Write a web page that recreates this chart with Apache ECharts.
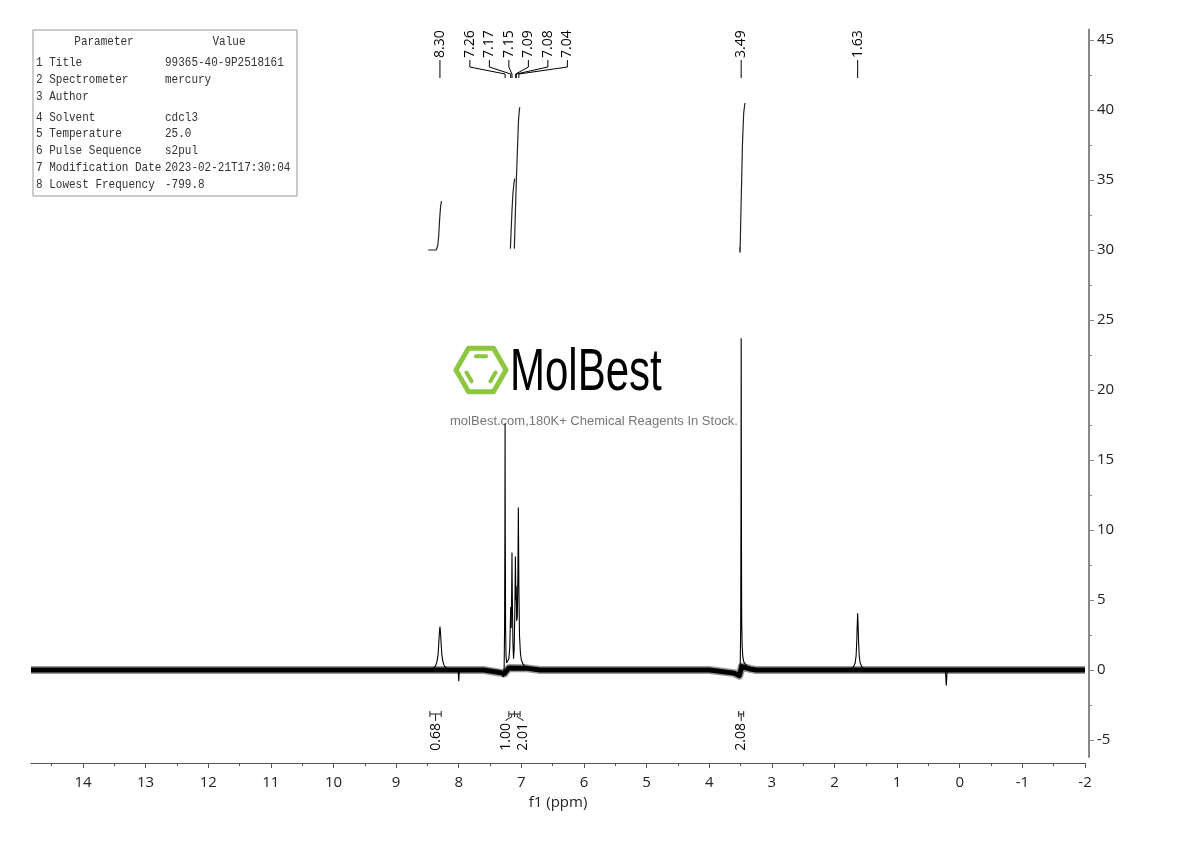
<!DOCTYPE html>
<html><head><meta charset="utf-8">
<script src="https://cdn.jsdelivr.net/npm/echarts@6/dist/echarts.min.js"></script>
<style>html,body{margin:0;padding:0;background:#fff}#c{width:1190px;height:841px}</style>
</head><body><div id="c"></div>
<script>
// ---------------- data ----------------
const xTicks = [-2,-1,0,1,2,3,4,5,6,7,8,9,10,11,12,13,14];
const xMinorTicks = [-1.5,-0.5,0.5,1.5,2.5,3.5,4.5,5.5,6.5,7.5,8.5,9.5,10.5,11.5,12.5,13.5,14.5];
const yTicks = [-5,0,5,10,15,20,25,30,35,40,45];
const yMinorTicks = [-2.5,2.5,7.5,12.5,17.5,22.5,27.5,32.5,37.5,42.5];

const spectrum = [
 [14.83,0],[8.50,0],
 [8.45,0.05],[8.40,0.15],[8.37,0.3],[8.35,0.55],[8.33,1.1],[8.32,1.8],[8.31,2.6],[8.30,3.1],[8.29,2.6],[8.28,1.8],[8.27,1.1],[8.25,0.55],[8.23,0.3],[8.20,0.15],[8.15,0.05],[8.10,0],
 [8.01,0],[8.00,-0.8],[7.99,0],
 [7.60,0],[7.40,-0.1],[7.32,-0.3],[7.285,-0.5],[7.275,0.2],[7.268,3.0],[7.263,10],[7.26,17.6],[7.257,10],[7.252,3.0],[7.245,1.0],[7.235,0.5],[7.22,0.5],[7.20,0.8],[7.185,1.6],[7.175,3.5],[7.17,4.5],[7.162,3.0],[7.155,5.5],[7.15,8.4],[7.145,5.5],[7.135,2.0],[7.125,0.8],[7.115,1.5],[7.103,4.5],[7.095,8.1],[7.088,5.0],[7.082,6.0],[7.075,3.5],[7.065,3.8],[7.055,7.0],[7.048,11.6],[7.04,6.0],[7.03,2.5],[7.015,1.2],[7.00,0.7],[6.97,0.4],[6.93,0.2],[6.85,0.05],[6.75,0],
 [4.00,0],[3.80,-0.2],[3.60,-0.35],[3.53,-0.5],[3.51,-0.6],[3.505,0.5],[3.498,3.0],[3.494,10],[3.49,23.7],[3.486,10],[3.482,3.5],[3.475,1.8],[3.465,1.0],[3.45,0.6],[3.42,0.4],[3.38,0.2],[3.30,0.05],[3.20,0],
 [1.80,0],[1.75,0.05],[1.70,0.2],[1.67,0.5],[1.655,1.0],[1.645,2.0],[1.637,3.2],[1.63,4.05],[1.623,3.2],[1.615,2.0],[1.605,1.0],[1.59,0.5],[1.56,0.2],[1.51,0.05],[1.45,0],
 [0.23,0],[0.215,-1.1],[0.20,0],
 [-2,0]
];
const baseline = [[14.83,0],[7.60,0],[7.32,-0.2],[7.27,-0.25],[7.20,0.15],[6.90,0.12],[6.70,0],[4.00,0],[3.60,-0.22],[3.52,-0.4],[3.48,0.25],[3.35,0.08],[3.25,0],[-2,0]];

const integral1 = [[8.488,30.0],[8.36,30.0],[8.335,30.3],[8.32,31.0],[8.305,32.2],[8.29,33.1],[8.276,33.5]];
const integral2 = [[7.175,30.1],[7.165,31.2],[7.15,32.8],[7.135,34.0],[7.12,34.7],[7.107,35.1]];
const integral3 = [[7.112,30.1],[7.10,32.0],[7.08,35.0],[7.06,37.5],[7.045,39.3],[7.027,40.2]];
const integral4 = [[3.515,30.2],[3.508,29.8],[3.50,31.5],[3.485,34.5],[3.47,37.5],[3.45,39.8],[3.43,40.5]];

const peakPositions = [8.30,7.26,7.17,7.15,7.09,7.08,7.04,3.49,1.63];
const integralFrom = [8.46,7.20,7.11,3.53];
const integralTo   = [8.28,7.11,7.02,3.45];
const integralValues = [0.68,1.00,2.01,2.08];

const paramNames = ['1 Title','2 Spectrometer','3 Author','4 Solvent','5 Temperature','6 Pulse Sequence','7 Modification Date','8 Lowest Frequency'];
const paramValues = ['99365-40-9P2518161','mercury','','cdcl3','25.0','s2pul','2023-02-21T17:30:04','-799.8'];

// ---------------- chart ----------------
const chart = echarts.init(document.getElementById('c'), null, {renderer:'canvas'});
const FONT = '"Open Sans", "Noto Sans", sans-serif';

function peakLayout(api){
  const pxs = peakPositions.map(p => api.coord([p,0])[0]);
  const groups = []; let cur = [0];
  for (let i=1;i<pxs.length;i++){ if (Math.abs(pxs[i]-pxs[i-1]) < 18) cur.push(i); else { groups.push(cur); cur=[i]; } }
  groups.push(cur);
  const lx = new Array(pxs.length);
  groups.forEach(g => {
    const n = g.length; const mean = g.reduce((s,i)=>s+pxs[i],0)/n;
    const c = n>1 ? mean+5.5 : mean;
    g.forEach((i,k) => { lx[i] = c + (k-(n-1)/2)*19.5; });
  });
  return {pxs, lx};
}
function integralLayout(api){
  const a = integralFrom.map(v => api.coord([v,0])[0]);
  const b = integralTo.map(v => api.coord([v,0])[0]);
  const cx = a.map((v,i) => (v+b[i])/2);
  const groups = []; let cur=[0];
  for (let i=1;i<cx.length;i++){ if (Math.abs(cx[i]-cx[i-1]) < 15) cur.push(i); else { groups.push(cur); cur=[i]; } }
  groups.push(cur);
  const lx = new Array(cx.length);
  groups.forEach(g => {
    const n=g.length; const mean=g.reduce((s,i)=>s+cx[i],0)/n;
    g.forEach((i,k)=>{ lx[i] = mean + (k-(n-1)/2)*17; });
  });
  return {a,b,cx,lx};
}

const TFONT = '11px "Liberation Mono"';
const tableChildren = [
  {type:'rect', shape:{x:33,y:30,width:264,height:166}, style:{fill:'#fff', stroke:'#999', lineWidth:1}},
  {type:'text', x:104, y:42, scaleY:1.2, style:{text:'Parameter', font:TFONT, fill:'#333', align:'center', verticalAlign:'middle'}},
  {type:'text', x:229, y:42, scaleY:1.2, style:{text:'Value', font:TFONT, fill:'#333', align:'center', verticalAlign:'middle'}}
];
const rowY = [63,80,97,118,134,151,168,185];
paramNames.forEach((n,i)=>{
  tableChildren.push({type:'text', x:36, y:rowY[i], scaleY:1.2, style:{text:n, font:TFONT, fill:'#333', verticalAlign:'middle'}});
  tableChildren.push({type:'text', x:165, y:rowY[i], scaleY:1.2, style:{text:paramValues[i], font:TFONT, fill:'#333', verticalAlign:'middle'}});
});

// hexagon logo
const hcx = 481, hcy = 370, R = 25, r = 16;
const hexPts = []; for (let k=0;k<6;k++){ const ang = -k*Math.PI/3; hexPts.push([hcx+R*Math.cos(ang), hcy+R*Math.sin(ang)]); }
const innerPts = []; for (let k=0;k<6;k++){ const ang = -k*Math.PI/3; innerPts.push([hcx+r*Math.cos(ang), hcy+r*Math.sin(ang)]); }
function innerSeg(i,j){ const p=innerPts[i], q=innerPts[j]; const t=0.18;
  return {type:'line', shape:{x1:p[0]+(q[0]-p[0])*t, y1:p[1]+(q[1]-p[1])*t, x2:q[0]-(q[0]-p[0])*t, y2:q[1]-(q[1]-p[1])*t}, style:{stroke:'#8dc63f', lineWidth:4, lineCap:'round'}}; }

const option = {
  animation:false,
  backgroundColor:'#fff',
  grid:[
    {left:31, right:105, top:29.5, bottom:78, containLabel:false},
    {left:31, right:101, top:29.5, bottom:84, containLabel:false}
  ],
  xAxis:[
    {gridIndex:0, type:'value', inverse:true, min:-2, max:14.83, position:'bottom',
     axisLine:{show:true, onZero:false, lineStyle:{color:'#555', width:1.2}},
     axisTick:{show:true, customValues:xTicks, length:5, lineStyle:{color:'#555'}},
     axisLabel:{customValues:xTicks, fontSize:15, color:'#222', margin:12, fontFamily:FONT},
     splitLine:{show:false},
     name:'f1 (ppm)', nameLocation:'middle', nameGap:26, nameTextStyle:{fontSize:15, color:'#222', fontFamily:FONT}},
    {gridIndex:0, type:'value', inverse:true, min:-2, max:14.83, position:'bottom',
     axisLine:{show:false, onZero:false}, axisTick:{show:true, customValues:xMinorTicks, length:3, lineStyle:{color:'#555'}},
     axisLabel:{show:false}, splitLine:{show:false}},
    {gridIndex:1, type:'value', inverse:true, min:-2, max:14.83, show:false, axisLine:{onZero:false}}
  ],
  yAxis:[
    {gridIndex:0, type:'value', min:-6.64, max:45.75, show:false, axisLine:{onZero:false}},
    {gridIndex:1, type:'value', min:-6.21, max:45.75, position:'right',
     axisLine:{show:true, onZero:false, lineStyle:{color:'#888', width:2}},
     axisTick:{show:true, customValues:yTicks, length:5, lineStyle:{color:'#888'}},
     axisLabel:{customValues:yTicks, fontSize:15, color:'#222', margin:8, fontFamily:FONT},
     splitLine:{show:false}},
    {gridIndex:1, type:'value', min:-6.21, max:45.75, position:'right',
     axisLine:{show:false, onZero:false}, axisTick:{show:true, customValues:yMinorTicks, length:3, lineStyle:{color:'#888'}},
     axisLabel:{show:false}, splitLine:{show:false}}
  ],
  graphic:[
    {type:'group', z:0, children:[
      {type:'polygon', shape:{points:hexPts}, style:{fill:null, stroke:'#8dc63f', lineWidth:5, lineJoin:'round'}},
      innerSeg(1,2), innerSeg(3,4), innerSeg(5,0),
      {type:'text', x:510, y:373, scaleX:0.70, style:{text:'MolBest', font:'60px "Liberation Sans"', fill:'#000', verticalAlign:'middle'}},
      {type:'text', x:594, y:421, style:{text:'molBest.com,180K+ Chemical Reagents In Stock.', font:'13px "Liberation Sans"', fill:'#777', align:'center', verticalAlign:'middle'}}
    ]},
    {type:'group', z:10, children:tableChildren}
  ],
  series:[
    {type:'line', xAxisIndex:0, yAxisIndex:0, data:baseline, showSymbol:false, silent:true, lineStyle:{color:'rgba(0,0,0,0.4)', width:8, join:'round'}, z:1},
    {type:'line', xAxisIndex:0, yAxisIndex:0, data:baseline, showSymbol:false, silent:true, lineStyle:{color:'#000', width:5, join:'round'}, z:2},
    {type:'line', xAxisIndex:0, yAxisIndex:0, data:spectrum, showSymbol:false, sampling:null, lineStyle:{color:'#000', width:1.1}, z:3},
    {type:'line', xAxisIndex:0, yAxisIndex:0, data:integral1, showSymbol:false, lineStyle:{color:'#222', width:1.2}, z:3},
    {type:'line', xAxisIndex:0, yAxisIndex:0, data:integral2, showSymbol:false, lineStyle:{color:'#222', width:1.2}, z:3},
    {type:'line', xAxisIndex:0, yAxisIndex:0, data:integral3, showSymbol:false, lineStyle:{color:'#222', width:1.2}, z:3},
    {type:'line', xAxisIndex:0, yAxisIndex:0, data:integral4, showSymbol:false, lineStyle:{color:'#222', width:1.2}, z:3},
    {type:'custom', xAxisIndex:0, yAxisIndex:0, clip:false, z:4,
     data: peakPositions.map(p=>[p,0]),
     renderItem:(params, api)=>{
       const i = params.dataIndex; const L = peakLayout(api);
       const px = L.pxs[i], lx = L.lx[i];
       const pts = Math.abs(lx-px) < 0.5 ? [[px,60],[px,78]] : [[lx,60],[lx,67],[px,74],[px,78]];
       return {type:'group', children:[
         {type:'polyline', shape:{points:pts}, style:{stroke:'#000', lineWidth:1, fill:null}},
         {type:'text', x:lx, y:58, rotation:Math.PI/2, style:{text:peakPositions[i].toFixed(2), fill:'#000', font:'14px '+FONT, align:'left', verticalAlign:'middle'}}
       ]};
     }},
    {type:'custom', xAxisIndex:0, yAxisIndex:0, clip:false, z:4,
     data: integralFrom.map((f,i)=>[f,integralTo[i]]),
     renderItem:(params, api)=>{
       const i = params.dataIndex; const L = integralLayout(api);
       const a=L.a[i], b=L.b[i], cx=L.cx[i], lx=L.lx[i];
       const st = {stroke:'#222', lineWidth:1, fill:null};
       const stem = Math.abs(lx-cx) < 0.5 ? [[cx,714],[cx,721]] : [[cx,714],[cx,717],[lx,720],[lx,721]];
       return {type:'group', children:[
         {type:'polyline', shape:{points:[[a,714],[b,714]]}, style:st},
         {type:'polyline', shape:{points:[[a,711],[a,717]]}, style:st},
         {type:'polyline', shape:{points:[[b,711],[b,717]]}, style:st},
         {type:'polyline', shape:{points:stem}, style:st},
         {type:'text', x:lx, y:723, rotation:Math.PI/2, style:{text:integralValues[i].toFixed(2), fill:'#000', font:'14px '+FONT, align:'right', verticalAlign:'middle'}}
       ]};
     }}
  ]
};
chart.setOption(option);
</script>
</body></html>
